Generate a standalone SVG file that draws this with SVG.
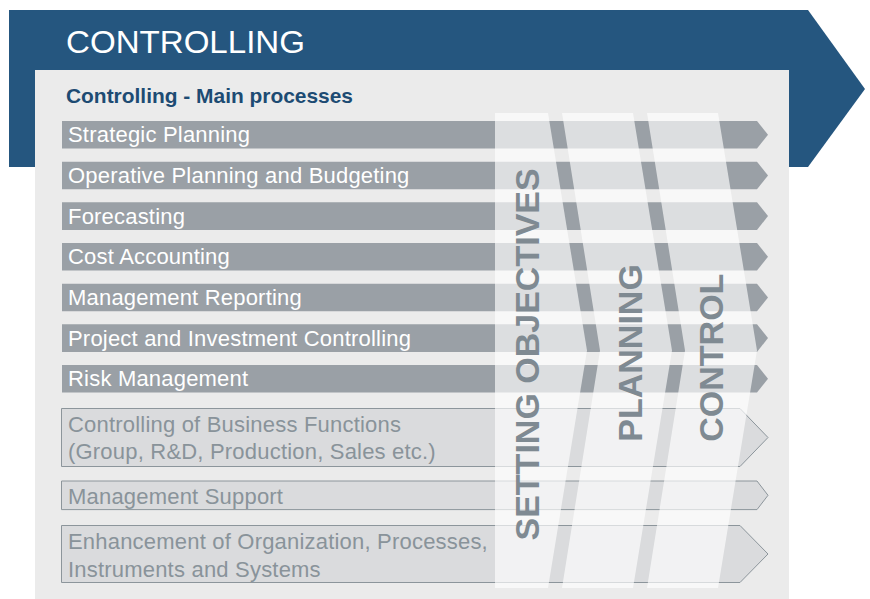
<svg xmlns="http://www.w3.org/2000/svg" width="870" height="599" viewBox="0 0 870 599">
  <style>
    .sans { font-family: "Liberation Sans", Arial, Helvetica, sans-serif; }
    .bar { fill: #9aa0a6; }
    .bartxt { fill: #ffffff; font-size: 22px; letter-spacing: 0.2px; }
    .obar { fill: #dadbdd; stroke: #8c959b; stroke-width: 1; }
    .obartxt { fill: #89939a; font-size: 22px; letter-spacing: 0.2px; }
    .band { fill: #ffffff; fill-opacity: 0.65; }
    .bandtxt { fill: #7f8a92; font-size: 34px; font-weight: bold; }
  </style>
  <rect width="870" height="599" fill="#ffffff"/>
  <g id="banner">
    <polygon points="9,10 808,10 865,89 808,167 9,167" fill="#25567f"/>
    <text class="sans" x="66" y="52.5" font-size="32" fill="#ffffff" textLength="239" lengthAdjust="spacingAndGlyphs">CONTROLLING</text>
  </g>
  <g id="panel">
    <rect x="35" y="70" width="754" height="529" fill="#ebebeb"/>
    <text class="sans" x="66" y="103.3" font-size="21" font-weight="bold" fill="#1d4b73" textLength="287" lengthAdjust="spacingAndGlyphs">Controlling - Main processes</text>
  </g>
  <g id="strategic-planning">
    <polygon class="bar" points="62,121 757,121 768,134.8 757,148.6 62,148.6"/>
    <text class="sans bartxt" x="68" y="142.3">Strategic Planning</text>
  </g>
  <g id="operative-planning">
    <polygon class="bar" points="62,161.7 757,161.7 768,175.5 757,189.3 62,189.3"/>
    <text class="sans bartxt" x="68" y="183">Operative Planning and Budgeting</text>
  </g>
  <g id="forecasting">
    <polygon class="bar" points="62,202.3 757,202.3 768,216.1 757,229.9 62,229.9"/>
    <text class="sans bartxt" x="68" y="223.6">Forecasting</text>
  </g>
  <g id="cost-accounting">
    <polygon class="bar" points="62,243 757,243 768,256.8 757,270.6 62,270.6"/>
    <text class="sans bartxt" x="68" y="264.3">Cost Accounting</text>
  </g>
  <g id="management-reporting">
    <polygon class="bar" points="62,283.7 757,283.7 768,297.5 757,311.3 62,311.3"/>
    <text class="sans bartxt" x="68" y="305">Management Reporting</text>
  </g>
  <g id="project-investment">
    <polygon class="bar" points="62,324.3 757,324.3 768,338.1 757,351.9 62,351.9"/>
    <text class="sans bartxt" x="68" y="345.6">Project and Investment Controlling</text>
  </g>
  <g id="risk-management">
    <polygon class="bar" points="62,365 757,365 768,378.8 757,392.6 62,392.6"/>
    <text class="sans bartxt" x="68" y="386.3">Risk Management</text>
  </g>
  <g id="business-functions">
    <polygon class="obar" points="61.5,408.5 740,408.5 768,437.5 740,466.5 61.5,466.5"/>
    <text class="sans obartxt" x="68" y="432">Controlling of Business Functions</text>
    <text class="sans obartxt" x="68" y="458.5">(Group, R&amp;D, Production, Sales etc.)</text>
  </g>
  <g id="management-support">
    <polygon class="obar" points="61.5,481 757,481 768,495.3 757,509.6 61.5,509.6"/>
    <text class="sans obartxt" x="68" y="504">Management Support</text>
  </g>
  <g id="enhancement">
    <polygon class="obar" points="61.5,525.5 740,525.5 768,554 740,582.5 61.5,582.5"/>
    <text class="sans obartxt" x="68" y="548.5">Enhancement of Organization, Processes,</text>
    <text class="sans obartxt" x="68" y="576.5">Instruments and Systems</text>
  </g>
  <g id="setting-objectives">
    <polygon class="band" points="495,113 548,113 587,350.5 548,588 495,588"/>
    <text class="sans bandtxt" transform="translate(539.3,540.5) rotate(-90)">SETTING OBJECTIVES</text>
  </g>
  <g id="planning">
    <polygon class="band" points="562,113 633,113 672,350.5 633,588 562,588 600,350.5"/>
    <text class="sans bandtxt" transform="translate(641.7,441.7) rotate(-90)">PLANNING</text>
  </g>
  <g id="control">
    <polygon class="band" points="647,113 718,113 757,350.5 718,588 647,588 685,350.5"/>
    <text class="sans bandtxt" transform="translate(723,441.7) rotate(-90)">CONTROL</text>
  </g>
</svg>
